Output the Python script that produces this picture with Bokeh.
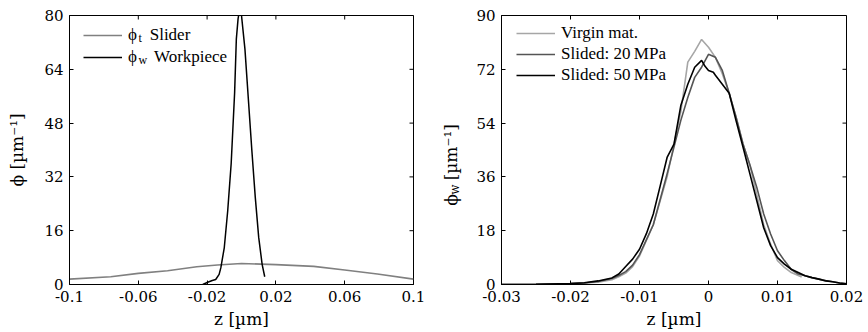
import numpy as np
from bokeh.plotting import figure
from bokeh.layouts import row
from bokeh.models import (FixedTicker, Legend, LegendItem, Label, Range1d)
from bokeh.embed import file_html
from bokeh.resources import INLINE

# ---------------- data: left panel ----------------
slider_z = [-0.1, -0.076, -0.06, -0.043, -0.026, -0.014, 0.0, 0.02, 0.042, 0.06, 0.079, 0.1]
slider_phi = [1.6, 2.3, 3.3, 4.1, 5.3, 5.8, 6.25, 5.9, 5.4, 4.3, 3.1, 1.6]

work_z = [-0.0225, -0.02, -0.017, -0.015, -0.013, -0.012, -0.010, -0.008, -0.006,
          -0.004, -0.003, -0.002, -0.001, 0.0, 0.002, 0.004, 0.006, 0.008, 0.010,
          0.012, 0.0135]
work_phi = [0.0, 0.6, 1.2, 1.5, 3.0, 5.0, 11.0, 22.0, 36.0, 57.0, 73.0, 79.0, 82.0,
            80.0, 70.0, 55.0, 40.0, 26.0, 14.0, 6.0, 2.3]

left_xticks = [-0.1, -0.06, -0.02, 0.02, 0.06, 0.1]
left_xlabels = ["-0.1", "-0.06", "-0.02", "0.02", "0.06", "0.1"]
left_yticks = [0, 16, 32, 48, 64, 80]

# ---------------- data: right panel ----------------
virgin_z = [-0.03, -0.025, -0.02, -0.018, -0.016, -0.014, -0.013, -0.012, -0.011, -0.010,
            -0.008, -0.006, -0.004, -0.003, -0.002, -0.001, 0.0, 0.001, 0.002, 0.003,
            0.004, 0.005, 0.006, 0.007, 0.008, 0.009, 0.010, 0.011, 0.012, 0.0135]
virgin_phi = [0.0, 0.1, 0.3, 0.5, 0.8, 1.6, 2.6, 3.8, 6.0, 9.5,
              20.0, 36.0, 58.0, 74.4, 78.0, 82.0, 79.4, 76.0, 70.5, 64.0,
              56.0, 47.0, 40.0, 30.0, 20.0, 13.5, 8.0, 5.7, 4.0, 2.5]

mpa20_z = [-0.03, -0.025, -0.02, -0.018, -0.016, -0.014, -0.013, -0.012, -0.011, -0.010,
           -0.008, -0.006, -0.004, -0.003, -0.002, -0.001, 0.0, 0.001, 0.002, 0.003,
           0.004, 0.005, 0.006, 0.007, 0.008, 0.009, 0.010, 0.011, 0.012, 0.013,
           0.014, 0.015, 0.016, 0.017, 0.018, 0.019, 0.020]
mpa20_phi = [0.0, 0.1, 0.3, 0.5, 1.0, 2.0, 3.0, 4.3, 6.5, 10.0,
             20.0, 37.0, 55.0, 62.6, 69.3, 72.7, 77.0, 76.0, 71.6, 64.0,
             56.0, 47.0, 40.0, 32.5, 23.6, 16.9, 11.3, 8.0, 5.0, 3.5,
             2.9, 2.3, 1.8, 1.3, 0.9, 0.5, 0.2]

mpa50_z = [-0.03, -0.025, -0.02, -0.018, -0.016, -0.014, -0.013, -0.012, -0.011, -0.010,
           -0.009, -0.008, -0.007, -0.006, -0.005, -0.004, -0.003, -0.002, -0.001, -0.0005,
           0.0, 0.0007, 0.001, 0.002, 0.003, 0.004, 0.005, 0.006, 0.007, 0.008,
           0.009, 0.010, 0.011, 0.012, 0.013, 0.014, 0.015, 0.016, 0.017, 0.018,
           0.019, 0.020]
mpa50_phi = [0.0, 0.1, 0.3, 0.6, 1.2, 2.2, 3.5, 6.0, 8.5, 11.8,
             17.0, 23.6, 33.0, 42.5, 47.0, 60.0, 67.0, 72.7, 75.0, 73.0,
             71.6, 71.0, 70.0, 67.0, 64.0, 54.8, 46.0, 37.0, 28.0, 19.0,
             13.0, 9.0, 6.8, 5.1, 4.0, 2.9, 2.3, 1.8, 1.2, 0.9,
             0.5, 0.2]

right_xticks = [-0.03, -0.02, -0.01, 0.0, 0.01, 0.02]
right_xlabels = ["-0.03", "-0.02", "-0.01", "0", "0.01", "0.02"]
right_yticks = [0, 18, 36, 54, 72, 90]

FONT = "Liberation Serif"
AX_FONT = "DejaVu Serif"
TICK_FS = "15px"
LABEL_FS = "17px"
LEG_FS = "17px"
TICK = 4  # px


def style(p, xticks, xlabels, yticks, fw, fh):
    xa = p.below[0]
    ya = p.left[0]
    xa.ticker = FixedTicker(ticks=xticks)
    xa.major_label_overrides = {t: l for t, l in zip(xticks, xlabels)}
    ya.ticker = FixedTicker(ticks=yticks)
    for ax in (xa, ya):
        ax.major_tick_in = TICK
        ax.major_tick_out = 0
        ax.minor_tick_line_color = None
        ax.axis_line_color = "black"
        ax.major_tick_line_color = "black"
        ax.major_label_text_font = AX_FONT
        ax.major_label_text_font_size = TICK_FS
        ax.major_label_text_color = "black"
        ax.axis_label_text_font = AX_FONT
        ax.axis_label_text_font_size = LABEL_FS
        ax.axis_label_text_font_style = "normal"
        ax.axis_label_text_color = "black"
    xa.major_label_standoff = 6
    ya.major_label_standoff = 6
    xa.axis_label_standoff = 4
    ya.axis_label_standoff = 14
    p.grid.visible = False
    p.outline_line_color = "black"
    p.outline_line_width = 1
    # mirrored inward ticks on the top and right edges
    x0, x1 = p.x_range.start, p.x_range.end
    y0, y1 = p.y_range.start, p.y_range.end
    dy = (y1 - y0) * TICK / fh
    dx = (x1 - x0) * TICK / fw
    p.segment(x0=xticks, x1=xticks, y0=[y1] * len(xticks), y1=[y1 - dy] * len(xticks),
              line_color="black", line_width=1)
    p.segment(x0=[x1] * len(yticks), x1=[x1 - dx] * len(yticks), y0=yticks, y1=yticks,
              line_color="black", line_width=1)


# ---------------- left figure ----------------
p1 = figure(frame_width=344, frame_height=269, output_backend="svg", toolbar_location=None,
            x_range=Range1d(-0.1, 0.1), y_range=Range1d(0, 80),
            min_border_left=69, min_border_right=27, min_border_top=15, min_border_bottom=48)
r_s = p1.line(slider_z, slider_phi, line_color="#808080", line_width=1.6)
r_w = p1.line(work_z, work_phi, line_color="black", line_width=1.5)
p1.xaxis.axis_label = "z [µm]"
p1.yaxis.axis_label = "ϕ [µm⁻¹]"
style(p1, left_xticks, left_xlabels, left_yticks, 344, 269)

leg1 = Legend(items=[LegendItem(label="ϕ   Slider", renderers=[r_s]),
                     LegendItem(label="ϕ    Workpiece", renderers=[r_w])],
              location=(14, 217), padding=0, margin=0, spacing=2,
              glyph_width=39, glyph_height=20, label_height=20, label_standoff=6,
              label_text_font=FONT, label_text_font_size=LEG_FS, label_text_color="black",
              border_line_alpha=0, background_fill_alpha=0)
p1.add_layout(leg1, "center")
p1.add_layout(Label(x=69, y=240, x_units="screen", y_units="screen", text="t",
                    text_font=FONT, text_font_size="12px", text_color="black"))
p1.add_layout(Label(x=69, y=218, x_units="screen", y_units="screen", text="w",
                    text_font=FONT, text_font_size="12px", text_color="black"))

# ---------------- strip holding the right y-axis title (with subscript) ----------------
pl = figure(frame_width=22, frame_height=332, output_backend="svg", toolbar_location=None,
            x_range=Range1d(0, 1), y_range=Range1d(0, 1),
            x_axis_location=None, y_axis_location=None,
            min_border_left=0, min_border_right=0, min_border_top=0, min_border_bottom=0)
pl.grid.visible = False
pl.outline_line_color = None
pl.add_layout(Label(x=10, y=182.5, x_units="screen", y_units="screen",
                    text="ϕ\u2002 [µm⁻¹]", angle=np.pi / 2, text_align="center",
                    text_baseline="middle", text_font=AX_FONT, text_font_size=LABEL_FS,
                    text_color="black"))
pl.add_layout(Label(x=14, y=158, x_units="screen", y_units="screen",
                    text="w", angle=np.pi / 2, text_align="center",
                    text_baseline="middle", text_font=AX_FONT, text_font_size="12px",
                    text_color="black"))

# ---------------- right figure ----------------
p2 = figure(frame_width=345, frame_height=269, output_backend="svg", toolbar_location=None,
            x_range=Range1d(-0.03, 0.02), y_range=Range1d(0, 90),
            min_border_left=39, min_border_right=22, min_border_top=15, min_border_bottom=48)
r_v = p2.line(virgin_z, virgin_phi, line_color="#a6a6a6", line_width=1.6)
r_20 = p2.line(mpa20_z, mpa20_phi, line_color="#555555", line_width=1.6)
r_50 = p2.line(mpa50_z, mpa50_phi, line_color="black", line_width=1.6)
p2.xaxis.axis_label = "z [µm]"
style(p2, right_xticks, right_xlabels, right_yticks, 345, 269)

leg2 = Legend(items=[LegendItem(label="Virgin mat.", renderers=[r_v]),
                     LegendItem(label="Slided: 20\u2009MPa", renderers=[r_20]),
                     LegendItem(label="Slided: 50\u2009MPa", renderers=[r_50])],
              location=(15, 199), padding=0, margin=0, spacing=1,
              glyph_width=39, glyph_height=20, label_height=20, label_standoff=6,
              label_text_font=FONT, label_text_font_size=LEG_FS, label_text_color="black",
              border_line_alpha=0, background_fill_alpha=0)
p2.add_layout(leg2, "center")

layout = row(p1, pl, p2)
open("out.html", "w").write(file_html(layout, INLINE))
